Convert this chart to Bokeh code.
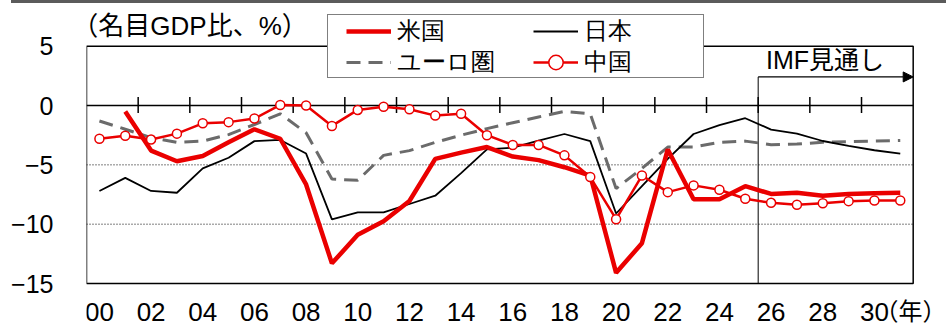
import numpy as np
from bokeh.plotting import figure
from bokeh.models import (Range1d, FixedTicker, Legend, LegendItem, Label,
                          Arrow, NormalHead, Div, BoxAnnotation)
from bokeh.core.properties import value
from bokeh.layouts import column
from bokeh.embed import file_html
from bokeh.resources import INLINE

# ---------------- data ----------------
years = list(range(2000, 2032))
x_tick_labels = ["00", "02", "04", "06", "08", "10", "12", "14", "16",
                 "18", "20", "22", "24", "26", "28", "30"]
y_ticks = [-15, -10, -5, 0, 5]
forecast_start = 2026

us = [np.nan, -0.5, -3.8, -4.7, -4.25, -3.1, -2.0, -2.8, -6.65, -13.3,
      -10.9, -9.75, -8.05, -4.5, -3.97, -3.5, -4.3, -4.6, -5.2, -5.9,
      -14.1, -11.6, -3.7, -7.9, -7.9, -6.8, -7.45, -7.35, -7.6, -7.45,
      -7.4, -7.35]
japan = [-7.2, -6.1, -7.2, -7.35, -5.3, -4.4, -3.0, -2.9, -4.05, -9.6,
         -9.0, -9.0, -8.3, -7.6, -5.7, -3.7, -3.55, -2.95, -2.4, -3.0,
         -9.1, -6.8, -4.5, -2.4, -1.65, -1.07, -2.03, -2.37, -2.99, -3.4,
         -3.77, -4.06]
euro = [-1.3, -2.0, -2.7, -3.1, -3.0, -2.45, -1.6, -0.7, -2.3, -6.2,
        -6.3, -4.2, -3.8, -3.1, -2.5, -1.95, -1.45, -0.96, -0.5, -0.7,
        -7.0, -5.3, -3.5, -3.5, -3.1, -3.0, -3.3, -3.25, -3.1, -3.05,
        -3.0, -2.95]
china = [-2.8, -2.55, -2.87, -2.37, -1.5, -1.4, -1.1, 0.05, 0.0, -1.72,
         -0.37, -0.11, -0.31, -0.85, -0.7, -2.5, -3.32, -3.32, -4.2, -6.03,
         -9.58, -5.9, -7.3, -6.73, -7.1, -7.86, -8.2, -8.37, -8.23, -8.06,
         -8.0, -8.0]

series_names = ["米国", "日本", "ユーロ圏", "中国"]
title_text = "（名目GDP比、%）"
forecast_text = "IMF見通し"
year_unit_text = "（年）"

# ---------------- styles ----------------
RED = "#EA0000"
GRAY = "#6b6b6b"
FONT = "Liberation Sans, Noto Sans CJK JP"
AXFONT = "Liberation Sans"

idx = np.arange(len(years))
n = len(years)
x_lo, x_hi = -0.5, n - 0.5          # visible plot box (category edges)
y_lo, y_hi = y_ticks[0], y_ticks[-1]

# the frame spans everything right of the y labels; the plot box is drawn inside it
px_per_x = 25.834
px_per_y = 11.865
frame_w = 946 - 86
frame_h = 323
below_px = 43                        # room for the category labels under the box
x_end = x_lo + frame_w / px_per_x
p = figure(width=946, height=323, output_backend="svg", toolbar_location=None,
           x_range=Range1d(x_lo, x_end),
           y_range=Range1d(y_lo - below_px / px_per_y,
                           y_lo + (frame_h - below_px) / px_per_y),
           min_border_left=86, min_border_right=0, min_border_top=0,
           min_border_bottom=0, background_fill_color="white",
           border_fill_color="white")
p.outline_line_color = None
p.xgrid.visible = False
p.ygrid.visible = False
p.xaxis.visible = False

# y axis
yax = p.yaxis[0]
yax.ticker = FixedTicker(ticks=y_ticks)
yax.axis_line_color = None
yax.major_tick_in = 0
yax.major_tick_out = 0
yax.minor_tick_in = 0
yax.minor_tick_out = 0
yax.major_label_standoff = 33
yax.major_label_text_font = AXFONT
yax.major_label_text_font_size = "25px"
yax.major_label_text_color = "black"

# category labels under the box, plus the unit after the last one
label_years = [2000 + int(t) for t in x_tick_labels]
label_idx = [years.index(y) for y in label_years]
label_y = y_lo - 2.37
p.text(x=label_idx, y=[label_y] * len(label_idx), text=x_tick_labels,
       text_font=value(AXFONT), text_font_size="26px", text_align="center",
       text_baseline="middle", text_color="black")
p.text(x=[x_end], y=[label_y], text=[year_unit_text],
       text_font=value(FONT), text_font_size="24px", text_align="right",
       text_baseline="middle", text_color="black")

# dotted grid lines and solid zero line inside the box
grid_y = [t for t in y_ticks if y_lo < t < 0]
p.segment(x0=[x_lo] * len(grid_y), y0=grid_y, x1=[x_hi] * len(grid_y), y1=grid_y,
          line_color="black", line_width=1, line_dash="1 2")
p.segment(x0=[x_lo], y0=[0], x1=[x_hi], y1=[0], line_color="black", line_width=1.5)

# cross ticks on the zero line, at the left edge of each labelled category
tick_x = [i - 0.5 for i in label_idx[1:]]
p.segment(x0=tick_x, y0=[-0.63] * len(tick_x), x1=tick_x, y1=[0.72] * len(tick_x),
          line_color="black", line_width=1.5)

# forecast bracket
fx = years.index(forecast_start) - 0.5
arrow_y = 2.41
p.segment(x0=[fx], y0=[y_lo], x1=[fx], y1=[arrow_y], line_color="black", line_width=1)
p.add_layout(Arrow(x_start=fx, y_start=arrow_y, x_end=x_hi, y_end=arrow_y,
                   line_color="black", line_width=1.2,
                   end=NormalHead(size=10, fill_color="black", line_color="black")))
p.add_layout(Label(x=fx + 0.3, y=3.82, text=forecast_text, text_font=FONT,
                   text_font_size="25px", text_baseline="middle", text_align="left",
                   text_color="black"))

# series
r_eu = p.line(idx, np.array(euro, dtype=float), line_color=GRAY, line_width=3,
              line_dash="14 8")
r_jp = p.line(idx, np.array(japan, dtype=float), line_color="black", line_width=1.8)
r_us = p.line(idx, np.array(us, dtype=float), line_color=RED, line_width=4.5)
r_cn = p.line(idx, np.array(china, dtype=float), line_color=RED, line_width=2.5)
r_cn_pts = p.scatter(idx, np.array(china, dtype=float), marker="circle", size=9,
                     fill_color="white", line_color=RED, line_width=1.5)

# plot box
p.add_layout(BoxAnnotation(left=x_lo, right=x_hi, bottom=y_lo, top=y_hi,
                           fill_alpha=0, line_color="black", line_width=1.5,
                           line_alpha=1))

# title
p.add_layout(Label(x=-1.05, y=6.69, text=title_text, text_font=FONT,
                   text_font_size="26px", text_baseline="middle", text_align="left",
                   text_color="black"))

# legend: a box, then one single-item legend per cell
# (locations are measured in pixels up from the frame bottom)
dummy = p.line(x=[], y=[], line_alpha=0)
box = Legend(items=[LegendItem(label=" ", renderers=[dummy])], location=(241, 248),
             padding=0, spacing=0, margin=0, glyph_width=375, glyph_height=62,
             label_standoff=0, label_width=0, label_height=0,
             label_text_font_size="1px", border_line_color="black",
             border_line_width=1, background_fill_color="white",
             background_fill_alpha=1)
p.add_layout(box, "center")

common = dict(padding=0, spacing=0, margin=0, glyph_width=45, glyph_height=36,
              label_height=36, label_standoff=6, label_text_font=AXFONT,
              label_text_font_size="24px", label_text_color="black",
              border_line_color=None, background_fill_alpha=0)
cells = [(series_names[0], [r_us], (260, 277)),
         (series_names[1], [r_jp], (447, 277)),
         (series_names[2], [r_eu], (260, 246)),
         (series_names[3], [r_cn, r_cn_pts], (447, 246))]
for name, rends, loc in cells:
    p.add_layout(Legend(items=[LegendItem(label=name, renderers=rends)],
                        location=loc, **common), "center")

bar = Div(text="", width=935, height=3, margin=(0, 0, 0, 11),
          styles={"background-color": "#5b5b5b"})
layout = column(bar, p, spacing=0)

open("out.html", "w").write(file_html(layout, INLINE))
